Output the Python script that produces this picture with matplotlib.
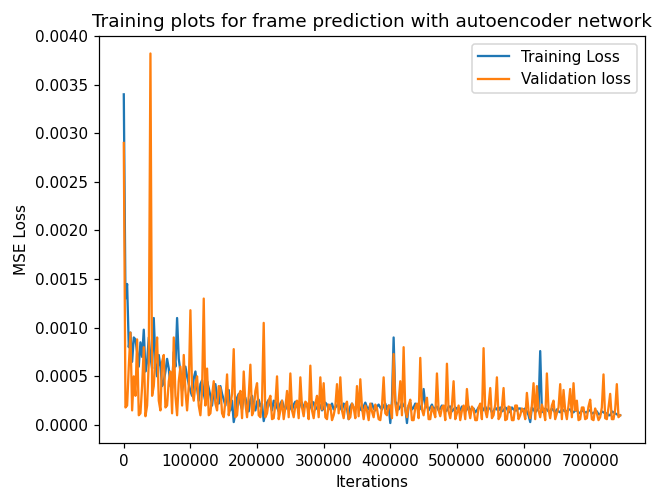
import numpy as np
import matplotlib
matplotlib.use('Agg')
import matplotlib.pyplot as plt

# losses logged every 2500 iterations, values in units of 1e-4
# (one row = 25000 iterations)
train_loss = [
    34.0, 13.0, 14.5, 8.0, 9.5, 6.5, 9.0, 8.8, 7.5, 6.0,
    8.5, 7.0, 9.8, 5.5, 6.5, 9.0, 7.0, 5.8, 11.0, 6.5,
    5.0, 7.2, 6.0, 4.0, 4.5, 5.5, 6.8, 5.8, 4.0, 3.8,
    7.5, 6.0, 11.0, 6.8, 5.5, 3.5, 4.5, 6.0, 5.0, 4.2,
    3.5, 3.0, 4.8, 5.5, 3.8, 2.5, 4.2, 4.6, 3.2, 2.4,
    4.5, 3.8, 3.0, 2.0, 3.6, 4.2, 2.8, 2.2, 4.0, 3.2,
    2.6, 2.0, 3.4, 3.6, 1.5, 2.5, 0.3, 1.2, 2.8, 3.2,
    2.2, 1.6, 3.0, 2.8, 2.0, 1.4, 2.6, 3.0, 1.8, 1.5,
    2.4, 2.6, 1.9, 2.2, 0.4, 1.2, 2.3, 2.6, 2.0, 1.5,
    2.5, 2.4, 1.8, 1.4, 2.2, 2.5, 1.9, 1.6, 2.1, 2.3,
    1.8, 1.5, 2.1, 2.4, 1.9, 1.6, 2.2, 2.3, 1.7, 2.2,
    2.0, 1.5, 1.9, 2.4, 2.3, 1.6, 1.8, 2.2, 2.0, 1.5,
    1.7, 2.3, 2.1, 1.6, 1.9, 2.2, 1.6, 1.8, 2.0, 2.3,
    1.8, 1.5, 2.2, 2.0, 1.7, 0.6, 1.9, 2.2, 1.8, 1.6,
    2.0, 2.2, 1.6, 1.5, 1.9, 2.3, 1.8, 1.6, 2.1, 2.2,
    1.7, 1.5, 1.9, 2.1, 1.8, 1.6, 2.0, 2.2, 1.6, 2.0,
    0.2, 2.5, 9.0, 2.4, 2.2, 1.6, 1.9, 2.3, 2.0, 1.8,
    0.2, 2.0, 2.3, 1.6, 1.8, 2.2, 2.0, 1.5, 1.7, 2.1,
    3.7, 2.1, 1.9, 1.5, 1.8, 2.1, 1.6, 1.8, 1.9, 1.5,
    1.7, 2.0, 1.8, 1.4, 1.5, 1.9, 1.9, 1.4, 1.6, 1.8,
    1.7, 1.4, 1.5, 1.9, 1.8, 1.4, 1.6, 1.9, 1.4, 1.7,
    1.7, 1.3, 1.5, 1.8, 1.8, 1.4, 1.6, 1.9, 1.5, 1.7,
    1.7, 1.3, 1.4, 1.8, 1.6, 1.5, 1.8, 1.4, 1.5, 1.8,
    1.7, 1.3, 1.4, 1.8, 1.6, 1.5, 1.5, 1.7, 1.7, 1.4,
    1.6, 1.7, 1.4, 1.0, 0.3, 1.8, 1.6, 1.3, 1.5, 1.7,
    7.6, 1.4, 1.3, 1.7, 1.6, 1.4, 1.4, 1.7, 1.5, 1.3,
    1.6, 1.4, 1.3, 1.6, 1.5, 1.4, 1.4, 1.6, 1.6, 1.3,
    1.3, 1.5, 1.5, 1.3, 1.2, 1.5, 1.4, 1.3, 1.3, 1.5,
    1.5, 1.2, 1.2, 1.4, 1.4, 1.1, 1.1, 1.4, 1.3, 1.2,
    1.2, 1.0, 1.0, 1.4, 1.3, 1.2, 1.1, 1.0, 1.0,
]

val_loss = [
    29.0, 1.8, 2.0, 6.0, 9.5, 1.5, 5.0, 3.0, 8.8, 1.0,
    1.2, 4.0, 8.0, 0.9, 2.0, 6.5, 38.2, 3.0, 4.0, 7.0,
    9.0, 2.5, 1.5, 6.5, 7.2, 1.8, 2.0, 4.5, 5.5, 1.2,
    9.0, 3.0, 1.0, 4.5, 6.0, 2.0, 7.2, 3.5, 1.5, 4.0,
    11.8, 3.5, 2.5, 4.2, 5.0, 2.0, 1.0, 3.5, 13.0, 2.0,
    5.8, 1.0, 1.2, 3.0, 4.5, 2.2, 1.5, 4.0, 3.8, 1.2,
    0.8, 2.5, 5.2, 1.0, 2.0, 3.2, 7.8, 0.8, 1.0, 3.0,
    3.5, 0.7, 5.5, 2.2, 0.8, 3.0, 6.2, 1.0, 1.5, 3.5,
    4.3, 1.0, 0.8, 2.5, 10.5, 0.8, 1.2, 2.5, 3.0, 0.6,
    0.7, 2.2, 5.0, 0.6, 1.5, 2.5, 0.6, 1.8, 3.5, 0.8,
    5.3, 1.5, 0.8, 2.0, 2.5, 0.7, 4.9, 1.8, 0.9, 2.4,
    2.2, 0.6, 6.1, 1.5, 0.7, 2.2, 3.0, 0.8, 4.9, 1.6,
    4.3, 0.8, 0.6, 2.1, 2.0, 0.5, 1.0, 1.9, 4.2, 1.2,
    4.9, 1.5, 0.7, 2.0, 2.4, 0.6, 0.8, 2.2, 1.8, 0.7,
    4.0, 0.9, 4.7, 1.8, 0.6, 2.0, 1.5, 0.5, 2.2, 1.4,
    0.8, 2.1, 1.7, 0.6, 0.5, 1.9, 4.9, 1.2, 1.0, 2.0,
    2.0, 0.7, 7.3, 2.2, 1.0, 2.4, 4.5, 1.0, 8.0, 1.5,
    0.8, 2.0, 2.6, 0.5, 0.5, 1.8, 2.2, 0.7, 6.9, 1.6,
    1.0, 2.0, 2.8, 0.6, 0.6, 1.9, 1.4, 0.8, 5.3, 1.5,
    0.9, 1.8, 2.0, 0.5, 6.3, 1.4, 0.7, 2.0, 4.5, 0.6,
    1.2, 2.0, 0.5, 1.5, 2.0, 0.6, 3.7, 1.6, 0.7, 1.9,
    1.6, 0.5, 0.5, 1.8, 2.2, 0.6, 7.9, 1.5, 0.8, 2.0,
    3.8, 0.7, 1.0, 2.1, 4.9, 0.6, 0.9, 1.8, 3.8, 0.5,
    0.6, 1.9, 1.8, 0.5, 0.5, 2.0, 2.0, 0.6, 1.0, 1.7,
    1.5, 0.6, 3.3, 1.4, 0.7, 2.0, 4.3, 0.6, 4.0, 1.5,
    0.8, 2.1, 1.5, 0.5, 5.3, 1.6, 0.7, 2.0, 2.5, 0.6,
    1.2, 1.8, 4.2, 0.6, 3.6, 1.5, 0.6, 2.0, 3.7, 0.8,
    4.3, 1.5, 2.5, 0.5, 0.6, 1.8, 1.8, 0.6, 0.7, 1.9,
    2.6, 0.6, 0.5, 1.7, 1.2, 0.5, 0.8, 1.8, 5.2, 0.7,
    0.6, 1.8, 3.2, 0.6, 0.6, 1.6, 4.2, 0.8, 1.0,
]

log_every = 2500
train_iters = np.arange(len(train_loss)) * log_every
val_iters = np.arange(len(val_loss)) * log_every

fig = plt.figure(figsize=(655 / 110, 491 / 110), dpi=110)
ax = fig.add_axes([0.1511, 0.0978, 0.8336, 0.8289])
ax.plot(train_iters, np.array(train_loss) * 1e-4, label='Training Loss')
ax.plot(val_iters, np.array(val_loss) * 1e-4, label='Validation loss')
ax.set_ylim(-0.000185, 0.0040)
ax.set_yticks(np.arange(0, 0.00401, 0.0005))
ax.set_title('Training plots for frame prediction with autoencoder network')
ax.set_xlabel('Iterations')
ax.set_ylabel('MSE Loss')
ax.legend(loc='upper right')
fig.savefig('out.png', dpi=110)
